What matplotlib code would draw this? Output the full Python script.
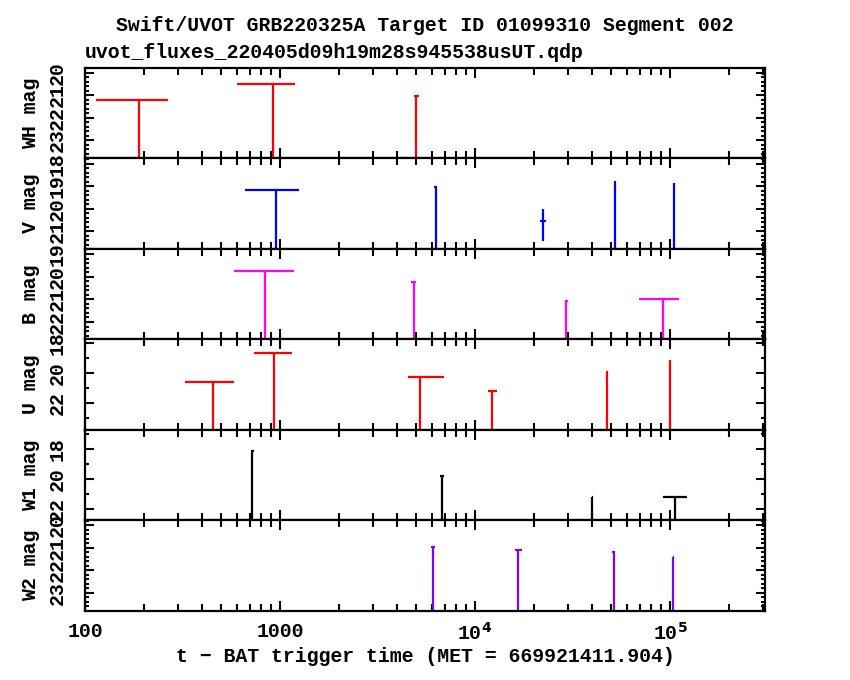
import matplotlib
matplotlib.use("Agg")
import matplotlib.pyplot as plt
from matplotlib.ticker import FixedLocator, MultipleLocator, LogLocator, NullFormatter

plt.rcParams['font.family'] = ['Liberation Mono', 'DejaVu Sans Mono']
plt.rcParams['font.weight'] = 'bold'

# bands (top to bottom)
bands = ["WH", "V", "B", "U", "W1", "W2"]
colors = ["#ff0000", "#0000ff", "#ff00ff", "#ff0000", "#000000", "#7f00ff"]

# time (s since trigger), start / stop of exposure
wh_t = [190, 925, 5000]
wh_tlo = [114, 604, 4860]
wh_thi = [267, 1197, 5150]
wh_mag = [21.20, 20.51, 21.02]
wh_elo = [0, 0, 0]
wh_ehi = [5, 5, 5]

v_t = [953, 6280, 22240, 52200, 105000]
v_tlo = [661, 6180, 21550, 51950, 104750]
v_thi = [1250, 6380, 23050, 52450, 105250]
v_mag = [19.18, 19.03, 20.55, 18.78, 18.84]
v_elo = [0, 0, 0.52, 0, 0]
v_ehi = [5, 5, 0.89, 5, 5]

b_t = [837, 4850, 29300, 92000]
b_tlo = [584, 4720, 28780, 69700]
b_thi = [1175, 4985, 29820, 110700]
b_mag = [19.77, 20.23, 21.07, 20.97]
b_elo = [0, 0, 0, 0]
b_ehi = [5, 5, 5, 5]

u_t = [452, 935, 5200, 12270, 47500, 100000]
u_tlo = [326, 736, 4530, 11700, 46900, 99750]
u_thi = [584, 1148, 6930, 12920, 48100, 100250]
u_mag = [20.57, 18.65, 20.28, 21.19, 19.95, 19.16]
u_elo = [0, 0, 0, 0, 0, 0]
u_ehi = [6, 6, 6, 6, 6, 6]

w1_t = [721, 6750, 40000, 106400]
w1_tlo = [707, 6595, 39800, 92500]
w1_thi = [735, 6905, 40200, 122500]
w1_mag = [18.11, 19.78, 21.18, 21.16]
w1_elo = [0, 0, 0, 0]
w1_ehi = [6, 6, 6, 6]

w2_t = [6070, 16540, 51400, 104000]
w2_tlo = [5915, 16040, 50300, 103750]
w2_thi = [6225, 17360, 52500, 104250]
w2_mag = [20.96, 21.09, 21.18, 21.38]
w2_elo = [0, 0, 0, 0]
w2_ehi = [5, 5, 5, 5]

data = [
    (wh_t, wh_tlo, wh_thi, wh_mag, wh_elo, wh_ehi),
    (v_t, v_tlo, v_thi, v_mag, v_elo, v_ehi),
    (b_t, b_tlo, b_thi, b_mag, b_elo, b_ehi),
    (u_t, u_tlo, u_thi, u_mag, u_elo, u_ehi),
    (w1_t, w1_tlo, w1_thi, w1_mag, w1_elo, w1_ehi),
    (w2_t, w2_tlo, w2_thi, w2_mag, w2_elo, w2_ehi),
]

# y ranges (faint, bright) and tick steps
ylims = [(23.8, 19.78), (21.8, 17.76), (22.77, 18.78),
         (23.79, 17.77), (22.73, 16.73), (23.8, 19.78)]
ymajor = [1, 1, 1, 2, 2, 1]
yminor = [0.2, 0.2, 0.2, 1, 1, 0.2]

xticks = [100, 1000, 1e4, 1e5]
xticklabels = ["100", "1000", "10$^4$", "10$^5$"]
xlim = (100, 3.07e5)

fig, axes = plt.subplots(6, 1, sharex=True, figsize=(8.5, 6.8), dpi=100)
fig.subplots_adjust(left=0.1, right=0.9, top=0.9, bottom=0.1015, hspace=0)

fs = 14.3

for i, ax in enumerate(axes):
    t, tlo, thi, mag, elo, ehi = data[i]
    xerr = [[a - b for a, b in zip(t, tlo)], [b - a for a, b in zip(t, thi)]]
    ax.errorbar(t, mag, xerr=xerr, yerr=[elo, ehi], fmt='none',
                ecolor=colors[i], elinewidth=1.6, capsize=0)
    ax.set_xscale('log')
    ax.set_xlim(*xlim)
    ax.set_ylim(*ylims[i])
    ax.yaxis.set_major_locator(MultipleLocator(ymajor[i]))
    ax.yaxis.set_minor_locator(MultipleLocator(yminor[i]))
    ax.xaxis.set_major_locator(FixedLocator(xticks))
    ax.xaxis.set_minor_locator(LogLocator(base=10, subs=range(2, 10)))
    ax.xaxis.set_minor_formatter(NullFormatter())
    for s in ax.spines.values():
        s.set_linewidth(1.6)
    ax.tick_params(which='both', direction='in', top=True, right=True, width=1.5)
    ax.tick_params(axis='x', which='major', length=7.2)
    ax.tick_params(axis='x', which='minor', length=4.7)
    ax.tick_params(axis='y', which='major', length=6.5, labelsize=fs, pad=13)
    ax.tick_params(axis='y', which='minor', length=3.2)
    for lab in ax.get_yticklabels():
        lab.set_rotation(90)
        lab.set_va('center')
    ax.set_ylabel(bands[i] + " mag", fontsize=fs, fontweight='bold')
    ax.yaxis.set_label_coords(-0.066, 0.5)

axes[-1].set_xticklabels(xticklabels)
axes[-1].tick_params(axis='x', which='major', labelsize=fs, pad=8)
axes[-1].set_xlabel("t \u2212 BAT trigger time (MET = 669921411.904)",
                    fontsize=fs, fontweight='bold', labelpad=2)

fig.text(0.5, 0.963, "Swift/UVOT GRB220325A Target ID 01099310 Segment 002",
         ha='center', va='center', fontsize=fs, fontweight='bold')
fig.text(0.1, 0.923, "uvot_fluxes_220405d09h19m28s945538usUT.qdp",
         ha='left', va='center', fontsize=fs, fontweight='bold')

fig.savefig("out.png", dpi=100)
